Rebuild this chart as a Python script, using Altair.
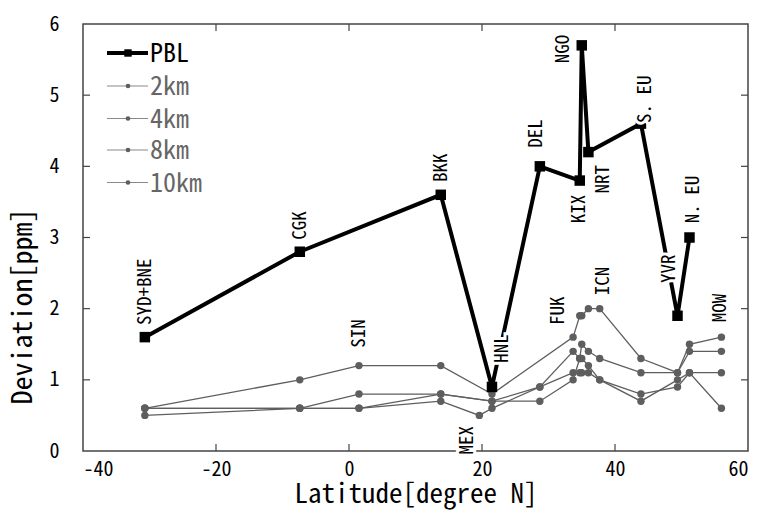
import altair as alt
import pandas as pd

# Stations along the flight routes and their latitude (degrees N)
stations = ["SYD+BNE", "CGK", "SIN", "BKK", "MEX", "HNL", "DEL", "FUK",
            "KIX", "NGO", "NRT", "ICN", "S. EU", "YVR", "N. EU", "MOW"]
latitude = [-30.7, -7.4, 1.5, 13.8, 19.6, 21.5, 28.7, 33.7,
            34.7, 35.0, 36.0, 37.7, 43.9, 49.4, 51.2, 56.0]

# CO2 deviation [ppm] per layer (None = no data at that station)
pbl = [1.6, 2.8, None, 3.6, None, 0.9, 4.0, None, 3.8, 5.7, 4.2, None, 4.6, 1.9, 3.0, None]
km2 = [0.6, 1.0, 1.2, 1.2, None, 0.8, None, 1.6, 1.9, 1.9, 2.0, 2.0, 1.3, 1.1, 1.5, 1.6]
km4 = [0.6, 0.6, 0.8, 0.8, None, 0.7, 0.9, 1.4, 1.3, 1.5, 1.4, 1.3, 1.1, 1.1, 1.4, 1.4]
km8 = [0.6, 0.6, 0.6, 0.8, None, 0.7, 0.7, 1.0, 1.3, 1.3, 1.2, 1.0, 0.8, 0.9, 1.1, 1.1]
km10 = [0.5, 0.6, 0.6, 0.7, 0.5, 0.6, 0.9, 1.1, 1.1, 1.1, 1.1, 1.0, 0.7, 1.0, 1.1, 0.6]

series_names = ["PBL", "2km", "4km", "8km", "10km"]
series_values = [pbl, km2, km4, km8, km10]

# Station name annotations: anchor latitude and the ppm level where the text starts
label_text = stations
label_lat = [-30.7, -7.4, 1.5, 13.8, 17.7, 23.0, 28.1, 31.4,
             34.6, 32.2, 38.2, 38.2, 44.5, 48.1, 51.7, 55.8]
label_ppm = [1.77, 2.97, 1.45, 3.78, -0.05, 1.24, 4.26, 1.77,
             3.20, 5.45, 3.62, 2.19, 4.61, 2.36, 3.20, 1.81]

x_ticks = [-40, -20, 0, 20, 40, 60]
y_ticks = [0, 1, 2, 3, 4, 5, 6]

rows = []
for name, vals in zip(series_names, series_values):
    for lat, v in zip(latitude, vals):
        if v is not None:
            rows.append({"series": name, "lat": lat, "ppm": v})
df = pd.DataFrame(rows)
pbl_df = df[df.series == "PBL"]
gray_df = df[df.series != "PBL"]

labels_df = pd.DataFrame({"name": label_text, "lat": label_lat, "ppm": label_ppm})

W, H = 665, 427
FONT = "Noto Sans Mono CJK JP, Liberation Mono, monospace"
FRAME = "#444444"
GRAY = "#5e5e5e"

x_scale = alt.Scale(domain=[-40, 60], nice=False, zero=False)
y_scale = alt.Scale(domain=[0, 6], nice=False)

x_axis = alt.Axis(
    title="Latitude[degree N]", values=x_ticks, ticks=False, domain=False, grid=False,
    labelFont=FONT, labelFontSize=20, labelColor="black", labelPadding=8,
    labelExpr="datum.value < 0 ? '-' + abs(datum.value) : '' + datum.value",
    titleFont=FONT, titleFontSize=27, titleFontWeight="normal", titleColor="black",
    titlePadding=2,
)
y_axis = alt.Axis(
    title="Deviation[ppm]", values=y_ticks, ticks=False, domain=False, grid=False,
    labelFont=FONT, labelFontSize=20, labelColor="black", labelPadding=24,
    titleFont=FONT, titleFontSize=28, titleFontWeight="normal", titleColor="black",
    titleAngle=270, titleX=-60, titleY=282, titleAlign="center", titleBaseline="middle",
)

X = alt.X("lat:Q", scale=x_scale, axis=x_axis)
Y = alt.Y("ppm:Q", scale=y_scale, axis=y_axis)

gray_lines = alt.Chart(gray_df).mark_line(color=GRAY, strokeWidth=1.3).encode(
    x=X, y=Y, detail="series:N", order="lat:Q")
gray_pts = alt.Chart(gray_df).mark_point(
    shape="circle", filled=True, color=GRAY, size=55, opacity=1).encode(x=X, y=Y)

pbl_line = alt.Chart(pbl_df).mark_line(color="black", strokeWidth=4).encode(
    x=X, y=Y, order="lat:Q")
pbl_pts = alt.Chart(pbl_df).mark_point(
    shape="square", filled=True, color="black", size=110, opacity=1).encode(x=X, y=Y)

# Station names with a white halo so they sit on top of the lines
label_halo = alt.Chart(labels_df).mark_text(
    angle=270, align="left", baseline="middle", font=FONT, fontSize=19,
    color="white", stroke="white", strokeWidth=6).encode(x=X, y=Y, text="name:N")
label_txt = alt.Chart(labels_df).mark_text(
    angle=270, align="left", baseline="middle", font=FONT, fontSize=19,
    color="black").encode(x=X, y=Y, text="name:N")

# Inward ticks on all four sides of the frame
tick_x = pd.DataFrame({"lat": x_ticks[1:-1]})
tick_y = pd.DataFrame({"ppm": y_ticks[1:-1]})
tick_style = dict(color=FRAME, strokeWidth=1.2)
ticks = [
    alt.Chart(tick_x).mark_rule(**tick_style).encode(
        x=X, y=alt.value(H), y2=alt.value(H - 7)),
    alt.Chart(tick_x).mark_rule(**tick_style).encode(
        x=X, y=alt.value(0), y2=alt.value(7)),
    alt.Chart(tick_y).mark_rule(**tick_style).encode(
        y=Y, x=alt.value(0), x2=alt.value(7)),
    alt.Chart(tick_y).mark_rule(**tick_style).encode(
        y=Y, x=alt.value(W), x2=alt.value(W - 7)),
]

# Legend drawn in the upper-left corner of the plot area
legend_layers = []
leg_rows_y = [29, 62, 94.5, 126, 158.5]
for i, name in enumerate(series_names):
    one = pd.DataFrame({"name": [name]})
    yy = leg_rows_y[i]
    if name == "PBL":
        line_c, sw, mk, msize, txt_c, mk_c = "black", 4, "square", 55, "black", "black"
    else:
        line_c, sw, mk, msize, txt_c, mk_c = "#8a8a8a", 1.2, "circle", 22, "#666666", GRAY
    legend_layers += [
        alt.Chart(one).mark_rule(color=line_c, strokeWidth=sw).encode(
            x=alt.value(24), x2=alt.value(65), y=alt.value(yy)),
        alt.Chart(one).mark_point(shape=mk, filled=True, color=mk_c,
                                  size=msize, opacity=1).encode(
            x=alt.value(45), y=alt.value(yy)),
        alt.Chart(one).mark_text(align="left", baseline="middle", font=FONT, fontSize=26,
                                 color=txt_c).encode(
            x=alt.value(67), y=alt.value(yy + 1), text="name:N"),
    ]

chart = alt.layer(
    *ticks, gray_lines, gray_pts, pbl_line, pbl_pts, label_halo, label_txt, *legend_layers
).properties(
    width=W, height=H,
    autosize=alt.AutoSizeParams(type="none"),
    padding={"left": 83, "top": 24, "right": 16, "bottom": 59},
    background="white",
).configure_view(stroke=FRAME, strokeWidth=1.5)

chart.save("out.html", embed_options={"renderer": "svg", "actions": False})
